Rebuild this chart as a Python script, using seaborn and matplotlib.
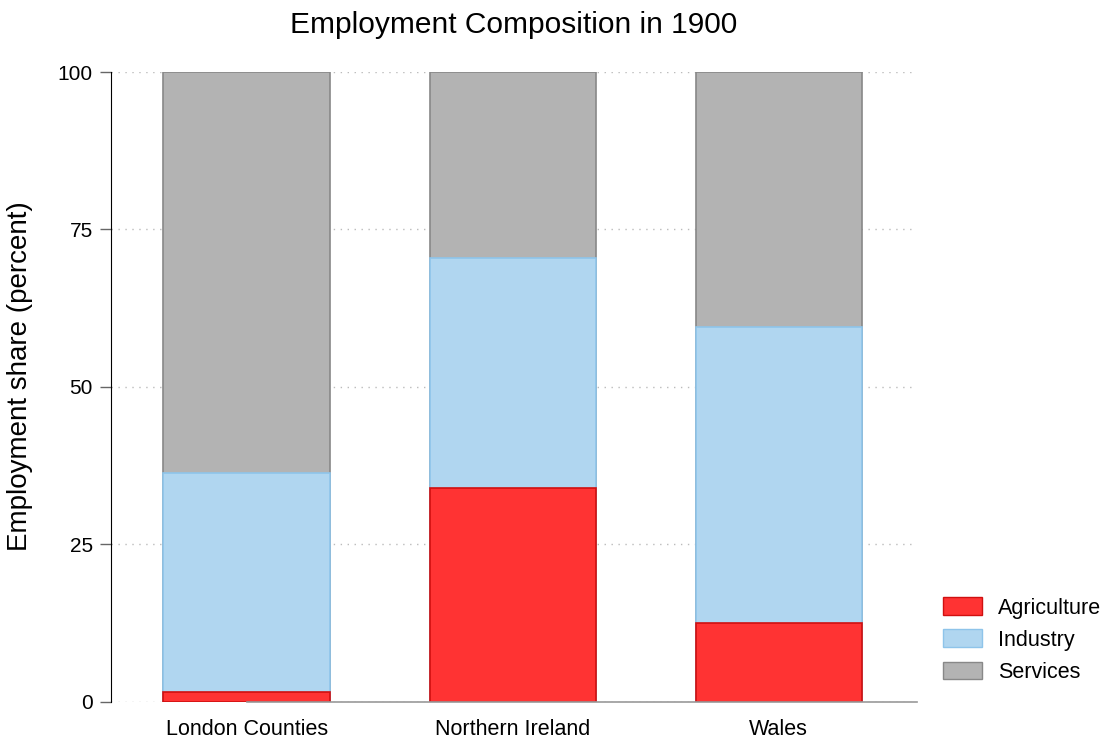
import matplotlib
matplotlib.use("Agg")
import matplotlib.pyplot as plt
from matplotlib.patches import Patch
import seaborn as sns
import pandas as pd
import numpy as np

#%% data
regions = ["London Counties", "Northern Ireland", "Wales"]
agriculture = [1.6, 34.0, 12.5]
industry = [34.7, 36.4, 47.0]
services = [63.7, 29.6, 40.5]

sectors = ["Agriculture", "Industry", "Services"]
fill_colors = {"Agriculture": "#FF3333", "Industry": "#B0D6F0", "Services": "#B3B3B3"}
edge_colors = {"Agriculture": "#D01010", "Industry": "#8EC4EA", "Services": "#888888"}

#%% cumulative tops for stacking
df = pd.DataFrame({"region": regions,
                   "Agriculture": agriculture,
                   "Industry": industry,
                   "Services": services})
df["top_agr"] = df["Agriculture"]
df["top_ind"] = df["Agriculture"] + df["Industry"]
df["top_srv"] = df["top_ind"] + df["Services"]

sns.set_style("white")
plt.rcParams["font.family"] = ["Liberation Sans", "DejaVu Sans"]
plt.rcParams["text.color"] = "black"
plt.rcParams["axes.labelcolor"] = "black"
plt.rcParams["xtick.color"] = "black"
plt.rcParams["ytick.color"] = "black"

fig = plt.figure(figsize=(11.09, 7.40), dpi=100)
ax = fig.add_axes([0.100, 0.0514, 0.727, 0.8513])

# grid lines first
for yv in [0, 25, 50, 75, 100]:
    ax.axhline(yv, color="#BBBBBB", linestyle=(0, (1, 4)), linewidth=1, zorder=0)

# draw from the tallest layer down so each lower one sits on top
for col, sec in [("top_srv", "Services"), ("top_ind", "Industry"), ("top_agr", "Agriculture")]:
    sns.barplot(data=df, x="region", y=col, color=fill_colors[sec], width=0.625,
                edgecolor=edge_colors[sec], linewidth=1.2, saturation=1, ax=ax, zorder=2)

ax.set_ylim(0, 100)
ax.set_xlim(-0.51, 2.52)
ax.set_yticks([0, 25, 50, 75, 100])
ax.set_yticklabels(["0", "25", "50", "75", "100"], fontsize=15)
ax.tick_params(axis="y", left=True, length=8, width=1, color="#666666", pad=5)
ax.tick_params(axis="x", length=0, labelsize=15.5, pad=12)
ax.set_xlabel("")
ax.set_ylabel("Employment share (percent)", fontsize=20)
ax.yaxis.set_label_coords(-0.097, 0.517)
ax.set_title("Employment Composition in 1900", fontsize=21.5, pad=28)

for s in ["top", "right"]:
    ax.spines[s].set_visible(False)
ax.spines["left"].set_color("black")
ax.spines["bottom"].set_color("#999999")
ax.spines["bottom"].set_linewidth(1.2)
ax.spines["bottom"].set_bounds(0, 2.52)

handles = [Patch(facecolor=fill_colors[s], edgecolor=edge_colors[s], label=s) for s in sectors]
fig.legend(handles=handles, loc="center left", bbox_to_anchor=(0.843, 0.135),
           borderaxespad=0, frameon=False, fontsize=15.5, handlelength=1.8,
           handleheight=0.9, handletextpad=0.75, labelspacing=0.5)

fig.savefig("out.png", dpi=100)
